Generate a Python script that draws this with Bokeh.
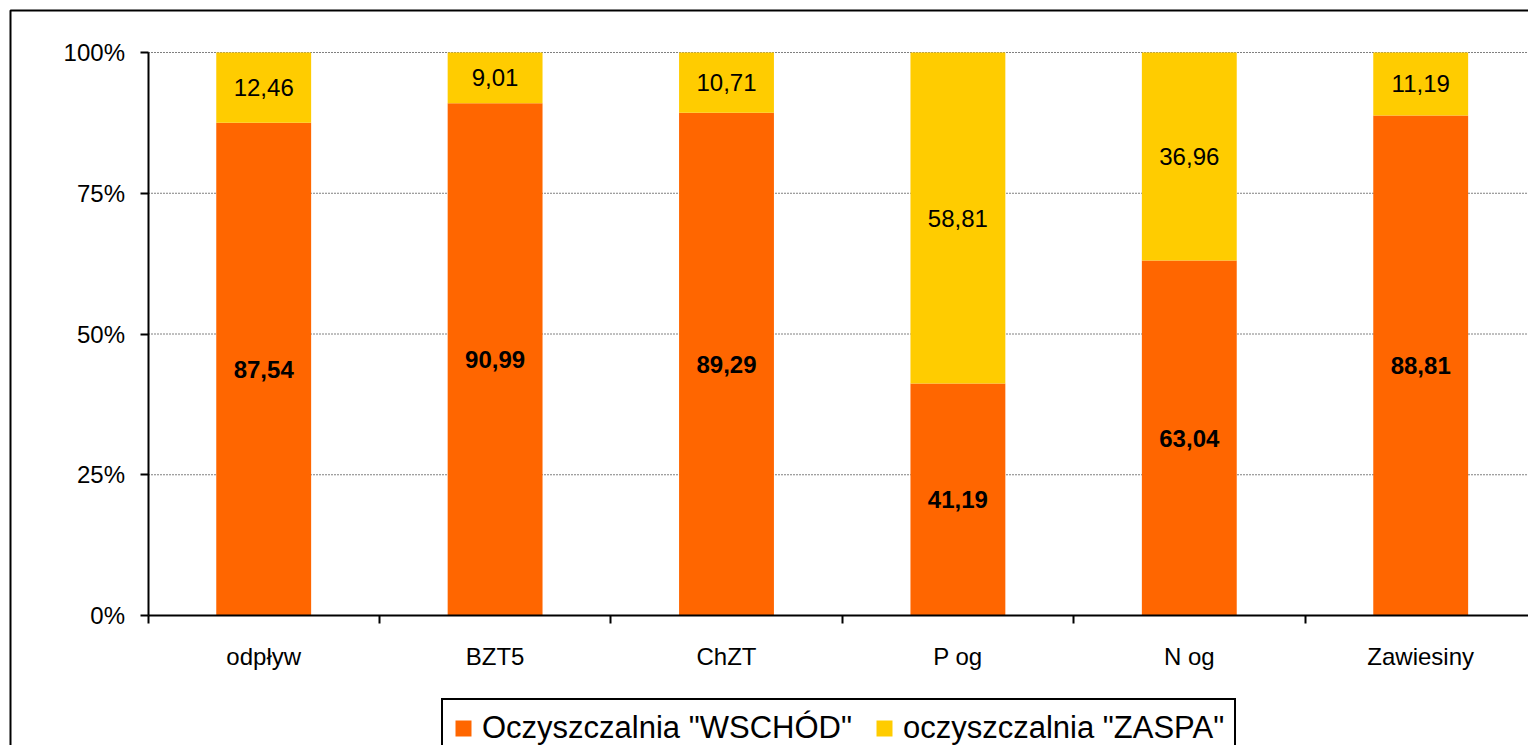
from bokeh.plotting import figure
from bokeh.models import (FixedTicker, Range1d, ColumnDataSource, BoxAnnotation,
                          Legend, LegendItem)
from bokeh.core.properties import value
from bokeh.embed import file_html
from bokeh.resources import INLINE

categories = ["odpływ", "BZT5", "ChZT", "P og", "N og", "Zawiesiny"]
wschod = [87.54, 90.99, 89.29, 41.19, 63.04, 88.81]
zaspa = [12.46, 9.01, 10.71, 58.81, 36.96, 11.19]
series_names = ['Oczyszczalnia "WSCHÓD"', 'oczyszczalnia "ZASPA"']
colors = ["#FF6600", "#FFCC00"]
y_ticks = [0, 25, 50, 75, 100]
y_tick_labels = ["0%", "25%", "50%", "75%", "100%"]

FONT = "Liberation Sans"

# layout (pixels): canvas size and plot-area placement
W, H = 1528, 745
PL, PT, PB = 147.5, 52, 615    # plot area left, top, bottom
CAT_PX = 231.4                 # width of one category slot
n = len(categories)
px_per_y = (PB - PT) / 100.0

x_range = Range1d(-PL / CAT_PX, (W - PL) / CAT_PX)
y_range = Range1d(-(H - PB) / px_per_y, 100 + PT / px_per_y)

xs = [i + 0.5 for i in range(n)]
src = ColumnDataSource(dict(x=xs, w=wschod, z=zaspa))

p = figure(width=W, height=H, output_backend="svg", toolbar_location=None,
           title=None, x_range=x_range, y_range=y_range,
           min_border_left=0, min_border_right=0, min_border_top=0,
           min_border_bottom=0)
p.outline_line_color = None
p.background_fill_color = "white"
p.border_fill_color = "white"
p.xgrid.visible = False
p.ygrid.visible = False

# gridlines limited to the plot area
gsrc = ColumnDataSource(dict(y=y_ticks[1:], x0=[0] * 4, x1=[n] * 4))
p.segment(x0="x0", x1="x1", y0="y", y1="y", source=gsrc,
          line_color="#808080", line_width=1, line_dash="2 1")

bars = p.vbar_stack(["w", "z"], x="x", width=0.41, source=src, color=colors,
                    line_color=None)

# value labels
wl = [f"{v:.2f}".replace(".", ",") for v in wschod]
zl = [f"{v:.2f}".replace(".", ",") for v in zaspa]
lab = ColumnDataSource(dict(x=xs, yw=[v / 2 for v in wschod],
                            yz=[a + b / 2 for a, b in zip(wschod, zaspa)],
                            tw=wl, tz=zl))
p.text(x="x", y="yw", text="tw", source=lab, text_align="center",
       text_baseline="middle", text_font=value(FONT), text_font_size="24px",
       text_font_style="bold", text_color="black")
p.text(x="x", y="yz", text="tz", source=lab, text_align="center",
       text_baseline="middle", text_font=value(FONT), text_font_size="24px",
       text_color="black")

# y axis
yax = p.yaxis[0]
yax.fixed_location = 0
yax.bounds = (0, 100)
yax.ticker = FixedTicker(ticks=y_ticks)
yax.major_label_overrides = {t: l for t, l in zip(y_ticks, y_tick_labels)}
yax.major_label_text_font = FONT
yax.major_label_text_font_size = "24px"
yax.major_label_text_color = "black"
yax.major_tick_out = 8
yax.major_tick_in = 0
yax.minor_tick_out = 0
yax.minor_tick_in = 0
yax.axis_line_width = 2
yax.major_tick_line_width = 2
yax.axis_line_color = "black"
yax.major_label_standoff = 15

# x axis
xax = p.xaxis[0]
xax.fixed_location = 0
xax.bounds = (0, n)
xax.ticker = FixedTicker(ticks=xs, minor_ticks=list(range(n + 1)))
xax.major_label_overrides = {x: c for x, c in zip(xs, categories)}
xax.major_label_text_font = FONT
xax.major_label_text_font_size = "24px"
xax.major_label_text_color = "black"
xax.major_tick_out = 0
xax.major_tick_in = 0
xax.minor_tick_out = 8
xax.minor_tick_in = 0
xax.minor_tick_line_width = 2
xax.minor_tick_line_color = "black"
xax.axis_line_width = 2
xax.axis_line_color = "black"
xax.major_label_standoff = 19

# legend
lg = Legend(items=[LegendItem(label=series_names[i], renderers=[bars[i]])
                   for i in range(2)])
lg.orientation = "horizontal"
lg.location = (441, -13)
lg.label_text_font = FONT
lg.label_text_font_size = "31px"
lg.label_text_color = "black"
lg.glyph_width = 20
lg.glyph_height = 20
lg.label_standoff = 9
lg.spacing = 22
lg.padding = 10
lg.margin = 0
lg.border_line_color = "black"
lg.border_line_width = 2
lg.border_line_alpha = 1
lg.background_fill_color = "white"
lg.background_fill_alpha = 1
p.add_layout(lg, "center")

# outer chart border
border = BoxAnnotation(left=10, right=W + 50, top=10, bottom=H + 50,
                       left_units="canvas", right_units="canvas",
                       top_units="canvas", bottom_units="canvas",
                       fill_alpha=0, line_color="black", line_width=2,
                       line_alpha=1)
p.add_layout(border)

open("out.html", "w").write(file_html(p, INLINE))
